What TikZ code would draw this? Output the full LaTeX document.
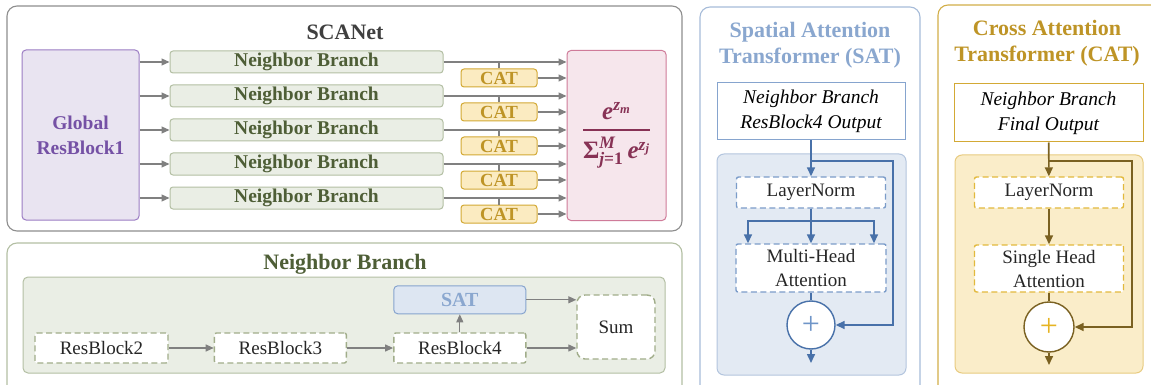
\documentclass[tikz,border=0pt]{standalone}
\usepackage{fontspec}
\setmainfont{Liberation Serif}
\usepackage{amsmath,amssymb}
\usepackage{bm}
\usetikzlibrary{arrows.meta, positioning, calc}

\newcommand{\bivar}[1]{\text{\bfseries\itshape #1}}

\definecolor{framegray}{HTML}{8E8E8E}
\definecolor{arrowgray}{HTML}{808080}
\definecolor{titlegray}{HTML}{3F3F3F}
\definecolor{globfill}{HTML}{E9E4F1}
\definecolor{globdraw}{HTML}{9B7CC3}
\definecolor{globtext}{HTML}{7551A5}
\definecolor{nbfill}{HTML}{EAEEE5}
\definecolor{nbdraw}{HTML}{B3BFA3}
\definecolor{nbtext}{HTML}{4E5E36}
\definecolor{nbdash}{HTML}{A1AD8A}
\definecolor{catfill}{HTML}{FBEBC1}
\definecolor{catdraw}{HTML}{D3A935}
\definecolor{cattext}{HTML}{BE9426}
\definecolor{softfill}{HTML}{F6E6EC}
\definecolor{softdraw}{HTML}{CF7B99}
\definecolor{softtext}{HTML}{873255}
\definecolor{satframe}{HTML}{A7BCD9}
\definecolor{satfill}{HTML}{DDE6F2}
\definecolor{satdraw}{HTML}{86A4CE}
\definecolor{sattext}{HTML}{8AA7CF}
\definecolor{satinner}{HTML}{E3EAF3}
\definecolor{satinnerdraw}{HTML}{B3C5DE}
\definecolor{satdash}{HTML}{7B9CC9}
\definecolor{satarrowc}{HTML}{4871A9}
\definecolor{satplus}{HTML}{6F95C8}
\definecolor{catframe}{HTML}{D2AE48}
\definecolor{catinner}{HTML}{FAEDC9}
\definecolor{catinnerdraw}{HTML}{E8CB80}
\definecolor{catdash}{HTML}{E2B93C}
\definecolor{catarrowc}{HTML}{7A6121}
\definecolor{catplus}{HTML}{E6B422}

\begin{document}
\begin{tikzpicture}[
        x=1pt, y=-1pt,
        panel/.style={
            line width=1.1pt,
            rounded corners=10pt,
            fill=white
        },
        title/.style={
            align=center,
            font=\fontsize{22}{26}\selectfont\bfseries
        },
        globbox/.style={
            rectangle,
            rounded corners=4pt,
            draw=globdraw,
            fill=globfill,
            line width=1pt,
            minimum width=117pt,
            minimum height=170pt,
            align=center,
            text=globtext,
            font=\fontsize{19.5}{25}\selectfont\bfseries
        },
        nbbox/.style={
            rectangle,
            rounded corners=3pt,
            draw=nbdraw,
            fill=nbfill,
            line width=1pt,
            minimum width=273pt,
            minimum height=22pt,
            inner sep=0pt,
            text=nbtext,
            font=\fontsize{19.5}{22}\selectfont\bfseries
        },
        catbox/.style={
            rectangle,
            rounded corners=3pt,
            draw=catdraw,
            fill=catfill,
            line width=1pt,
            minimum width=76pt,
            minimum height=18pt,
            inner sep=0pt,
            text=cattext,
            font=\fontsize{18.5}{20}\selectfont\bfseries
        },
        softbox/.style={
            rectangle,
            rounded corners=4pt,
            draw=softdraw,
            fill=softfill,
            line width=1pt,
            minimum width=99pt,
            minimum height=170pt,
            text=softtext,
            font=\fontsize{25}{28}\selectfont
        },
        satbox/.style={
            rectangle,
            rounded corners=4pt,
            draw=satdraw,
            fill=satfill,
            line width=1pt,
            minimum width=132pt,
            minimum height=28pt,
            inner sep=0pt,
            text=sattext,
            font=\fontsize{20}{22}\selectfont\bfseries
        },
        dashbox/.style={
            rectangle,
            rounded corners=2pt,
            fill=white,
            line width=1.4pt,
            dash pattern=on 6pt off 3.5pt,
            inner sep=0pt,
            align=center,
            text=black!85,
            font=\fontsize{19}{24}\selectfont
        },
        inbox/.style={
            rectangle,
            fill=white,
            line width=1pt,
            minimum width=188pt,
            minimum height=57pt,
            align=center,
            font=\fontsize{19.5}{25}\selectfont\itshape
        },
        addcircle/.style={
            circle,
            fill=white,
            line width=1.4pt,
            minimum size=48pt,
            inner sep=0pt,
            font=\fontsize{32}{32}\selectfont
        },
        arrow/.style={
            -{Triangle[length=8pt,width=7pt]},
            line width=1.2pt,
            draw=arrowgray
        },
        plainline/.style={
            line width=1.2pt,
            draw=arrowgray
        },
        satarrow/.style={
            -{Triangle[length=9pt,width=8pt]},
            line width=1.6pt,
            draw=satarrowc
        },
        catarrow/.style={
            -{Triangle[length=9pt,width=8pt]},
            line width=1.6pt,
            draw=catarrowc
        }
    ]

    \useasboundingbox (0,0) rectangle (1151,385);
    \clip (0,0) rectangle (1151,385);

    % SCANet panel
    \draw [panel, draw=framegray] (7,6) rectangle (682,231);
    \node (scanet_title) [title, text=titlegray] at (345,32) {SCANet};

    \node (global) [globbox] at (80.5,135) {Global \\ ResBlock1};

    \node (nb1) [nbbox] at (306.5,62) {Neighbor Branch};
    \node (nb2) [nbbox, below=11pt of nb1] {Neighbor Branch};
    \node (nb3) [nbbox, below=11pt of nb2] {Neighbor Branch};
    \node (nb4) [nbbox, below=11pt of nb3] {Neighbor Branch};
    \node (nb5) [nbbox, below=11pt of nb4] {Neighbor Branch};

    \node (cat1) [catbox] at (499,78) {CAT};
    \node (cat2) [catbox, below=15pt of cat1] {CAT};
    \node (cat3) [catbox, below=15pt of cat2] {CAT};
    \node (cat4) [catbox, below=15pt of cat3] {CAT};
    \node (cat5) [catbox, below=15pt of cat4] {CAT};

    \node (softmax) [softbox] at (616.5,135.5)
        {\raisebox{-5pt}{$\genfrac{}{}{1.9pt}{0}{\bivar{e}^{\bivar{z}_{\bivar{m}}}}{\text{\bfseries Σ}_{\bivar{j}\textbf{=1}}^{\bivar{M}}\,\bivar{e}^{\bivar{z}_{\bivar{j}}}}$}};

    \draw [arrow] (global.east |- nb1) -- (nb1);
    \draw [arrow] (global.east |- nb2) -- (nb2);
    \draw [arrow] (global.east |- nb3) -- (nb3);
    \draw [arrow] (global.east |- nb4) -- (nb4);
    \draw [arrow] (global.east |- nb5) -- (nb5);

    \draw [arrow] (nb1) -- (softmax.west |- nb1);
    \draw [arrow] (nb2) -- (softmax.west |- nb2);
    \draw [arrow] (nb3) -- (softmax.west |- nb3);
    \draw [arrow] (nb4) -- (softmax.west |- nb4);
    \draw [arrow] (nb5) -- (softmax.west |- nb5);

    \draw [plainline] (cat1) -- (cat1 |- nb1);
    \draw [plainline] (cat2) -- (cat2 |- nb2);
    \draw [plainline] (cat3) -- (cat3 |- nb3);
    \draw [plainline] (cat4) -- (cat4 |- nb4);
    \draw [plainline] (cat5) -- (cat5 |- nb5);

    \draw [arrow] (cat1) -- (softmax.west |- cat1);
    \draw [arrow] (cat2) -- (softmax.west |- cat2);
    \draw [arrow] (cat3) -- (softmax.west |- cat3);
    \draw [arrow] (cat4) -- (softmax.west |- cat4);
    \draw [arrow] (cat5) -- (softmax.west |- cat5);

    % Neighbor Branch panel
    \draw [panel, draw=nbdraw] (7,243) rectangle (682,420);
    \node (nb_title) [title, text=nbtext] at (345,264) {Neighbor Branch};
    \draw [rounded corners=5pt, draw=nbdraw, fill=nbfill, line width=1pt] (23,277) rectangle (665,373);

    \node (rb2) [dashbox, draw=nbdash, minimum width=133pt, minimum height=30pt] at (101.5,348) {ResBlock2};
    \node (rb3) [dashbox, draw=nbdash, minimum width=132pt, minimum height=30pt, right=45pt of rb2] {ResBlock3};
    \node (rb4) [dashbox, draw=nbdash, minimum width=132pt, minimum height=30pt, right=46pt of rb3] {ResBlock4};
    \node (sat) [satbox, above=18pt of rb4] {SAT};
    \node (sum) [dashbox, draw=nbdash, rounded corners=8pt, minimum width=78pt, minimum height=64pt] at (616,327) {Sum};

    \draw [arrow] (rb2) -- (rb3);
    \draw [arrow] (rb3) -- (rb4);
    \draw [arrow] (rb4) -- (sat);
    \draw [arrow] (sat) -- (sat -| sum.west);
    \draw [arrow] (rb4) -- (rb4 -| sum.west);

    % SAT panel
    \draw [panel, draw=satframe] (700,7) rectangle (920,420);
    \node (sat_title) [title, text=sattext] at (810,45) {Spatial Attention \\ Transformer (SAT)};
    \node (sat_in) [inbox, draw=satdraw] at (811,111.5) {Neighbor Branch \\ ResBlock4 Output};
    \draw [rounded corners=7pt, draw=satinnerdraw, fill=satinner, line width=1pt] (717,154) rectangle (906,375);

    \node (sat_ln) [dashbox, draw=satdash, minimum width=149pt, minimum height=31pt] at (811,192.5) {LayerNorm};
    \node (sat_mha) [dashbox, draw=satdash, minimum width=150pt, minimum height=48pt] at (811,268) {Multi-Head \\ Attention};
    \node (sat_add) [addcircle, draw=satarrowc, text=satplus] at (811,325) {+};
    \coordinate (sat_fork) at (811,161);

    \draw [satarrow] (sat_in) -- (sat_ln);
    \draw [satarrow] (sat_fork) -- ++(82,0) |- (sat_add.east);
    \draw [satarrow] (sat_ln) -- (sat_mha);
    \draw [satarrow] (sat_ln.south) -- ++(0,12) -| ([xshift=-63pt]sat_mha.north);
    \draw [satarrow] (sat_ln.south) -- ++(0,12) -| ([xshift=63pt]sat_mha.north);
    \draw [satarrow, -] (sat_mha) -- (sat_add);
    \draw [satarrow] (sat_add) -- ++(0,38);

    % CAT panel
    \draw [panel, draw=catframe] (938,5) rectangle (1170,420);
    \node (cat_title) [title, text=cattext] at (1047,43) {Cross Attention \\ Transformer (CAT)};
    \node (cat_in) [inbox, draw=catdraw, minimum width=189pt, minimum height=58pt] at (1048.5,113) {Neighbor Branch \\ Final Output};
    \draw [rounded corners=7pt, draw=catinnerdraw, fill=catinner, line width=1pt] (955,155) rectangle (1143,373);

    \node (cat_ln) [dashbox, draw=catdash, minimum width=149pt, minimum height=31pt] at (1049,192.5) {LayerNorm};
    \node (cat_sha) [dashbox, draw=catdash, minimum width=149pt, minimum height=47pt] at (1049,268.5) {Single Head \\ Attention};
    \node (cat_add) [addcircle, draw=catarrowc, text=catplus, minimum size=50pt] at (1049,327) {+};
    \coordinate (cat_fork) at (1049,161);

    \draw [catarrow] (cat_in) -- (cat_ln);
    \draw [catarrow] (cat_fork) -- ++(83,0) |- (cat_add.east);
    \draw [catarrow] (cat_ln) -- (cat_sha);
    \draw [catarrow, -] (cat_sha) -- (cat_add);
    \draw [catarrow] (cat_add) -- ++(0,38);

\end{tikzpicture}
\end{document}
